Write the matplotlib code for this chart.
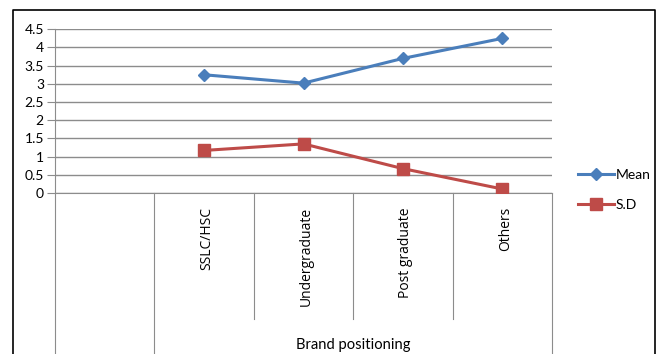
import numpy as np
import matplotlib
matplotlib.use("Agg")
import matplotlib.pyplot as plt
from matplotlib.lines import Line2D

plt.rcParams['font.family'] = ['Lato', 'DejaVu Sans']

# data
categories = ["", "SSLC/HSC", "Undergraduate", "Post graduate", "Others"]
group_label = "Brand positioning"
mean_vals = [np.nan, 3.25, 3.02, 3.70, 4.25]
sd_vals = [np.nan, 1.17, 1.35, 0.67, 0.11]
y_ticks = [0, 0.5, 1, 1.5, 2, 2.5, 3, 3.5, 4, 4.5]

blue = "#4A7EBB"
red = "#BE4B48"
grid_c = "#8C8C8C"

fig = plt.figure(figsize=(6.68, 3.54), dpi=100)
W, H = 668, 354

# outer frame (left, top, right)
fig.add_artist(Line2D([13/W, 13/W, 655/W, 655/W], [0, 1-10/H, 1-10/H, 0],
                      transform=fig.transFigure, color="black", lw=1.2))

ax = fig.add_axes([55/W, 1-193/H, (552-55)/W, (193-29.3)/H])
x = np.arange(len(categories)) + 0.5

ax.plot(x, mean_vals, color=blue, lw=2.2, marker="D", ms=6.5, label="Mean", zorder=3)
ax.plot(x, sd_vals, color=red, lw=2.2, marker="s", ms=8, label="S.D", zorder=3)

ax.set_xlim(0, len(categories))
ax.set_ylim(0, 4.5)
ax.set_yticks(y_ticks)
ax.set_yticklabels([f"{t:g}" for t in y_ticks], fontsize=10)
ax.tick_params(axis="y", length=6, color=grid_c, pad=2)
ax.set_xticks([])
ax.yaxis.grid(True, color=grid_c, lw=1)
ax.set_axisbelow(True)
for side in ["top", "right"]:
    ax.spines[side].set_visible(False)
ax.spines["left"].set_color(grid_c)
ax.spines["bottom"].set_color(grid_c)

# category dividers below the axis
trans = ax.get_xaxis_transform()
ax_h = 193 - 29.3
short_end = -(319 - 193) / ax_h
long_end = -(354 - 193) / ax_h
for i in range(len(categories) + 1):
    end = long_end if i in (0, 1, len(categories)) else short_end
    ax.plot([i, i], [0, end], transform=trans, color=grid_c, lw=0.8, clip_on=False)

# category labels, rotated
for xi, lab in zip(x, categories):
    ax.text(xi + 0.03, -(207 - 193) / ax_h, lab, transform=trans, rotation=90,
            ha="center", va="top", fontsize=10, family=["Open Sans", "DejaVu Sans"])

# group label
ax.text((1 + len(categories)) / 2, -(345 - 193) / ax_h, group_label, transform=trans,
        ha="center", va="center", fontsize=10.6)

leg = ax.legend(loc="center left", bbox_to_anchor=(1.027, 0.02), frameon=False,
                fontsize=10, handlelength=2.6, handletextpad=0.1, labelspacing=1.3)

fig.savefig("out.png", dpi=100)
